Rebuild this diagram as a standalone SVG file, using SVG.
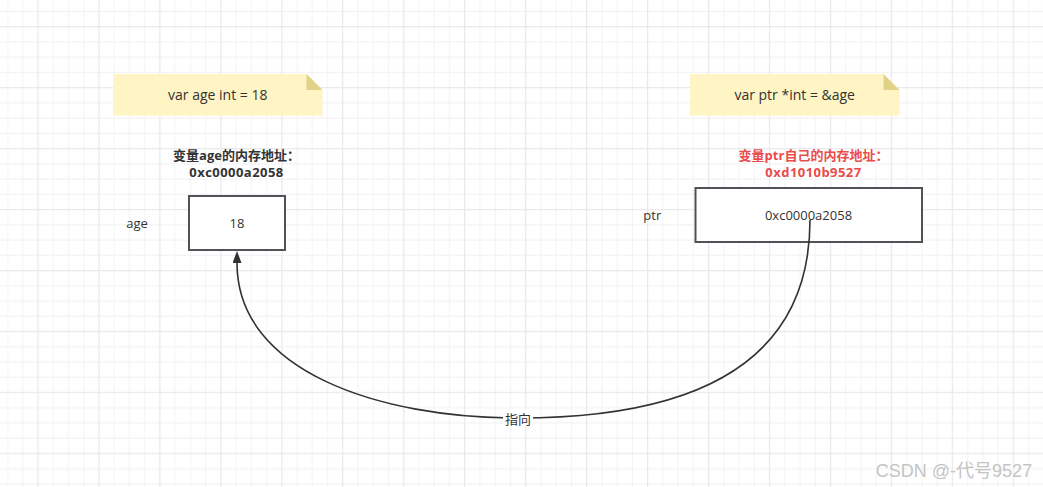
<svg xmlns="http://www.w3.org/2000/svg" width="1043" height="487" viewBox="0 0 1043 487">
<style>
text{font-family:"Open Sans","Noto Sans CJK SC",sans-serif;fill:#333333;font-size:13px}
.mid{text-anchor:middle}
.bold{font-weight:bold}
.wide{letter-spacing:0.45px}
.red{fill:#ea4b4b}
.note{fill:#fff4c3}
.fold{fill:#e2d288}
.box{fill:#ffffff;stroke:#4f5256;stroke-width:2}
.edge{fill:none;stroke:#333333;stroke-width:1.6}
.wm{fill:#c4c4c4;font-size:18px;font-family:"Liberation Sans","Noto Sans CJK SC",sans-serif}
</style>
<defs>
<pattern id="grid" patternUnits="userSpaceOnUse" x="30.38" y="19.08" width="60.96" height="60.96">
<path d="M22.86 0V60.96M38.1 0V60.96M53.34 0V60.96M0 22.86H60.96M0 38.1H60.96M0 53.34H60.96" stroke="#f3f3f3" stroke-width="1" fill="none"/>
<path d="M7.62 0V60.96M0 7.62H60.96" stroke="#e9e9e9" stroke-width="1.2" fill="none"/>
</pattern>
<marker id="arrow" markerUnits="userSpaceOnUse" viewBox="0 0 12 9" refX="0" refY="4.5" markerWidth="12" markerHeight="9" orient="auto">
<path d="M0 0L12 4.5L0 9z" fill="#333333"/>
</marker>
</defs>
<rect width="1043" height="487" fill="#ffffff"/>
<rect width="1043" height="487" fill="url(#grid)"/>

<g id="note-age">
<path class="note" d="M113 74H306.5L322.5 90V115.5H113z"/>
<path class="fold" d="M306.5 74L322.5 90H306.5z"/>
<text class="mid" x="217.8" y="100" style="font-size:14px">var age int = 18</text>
</g>

<g id="note-ptr">
<path class="note" d="M690 74H883.5L899.5 90V115.5H690z"/>
<path class="fold" d="M883.5 74L899.5 90H883.5z"/>
<text class="mid" x="794.7" y="100" style="font-size:14px">var ptr *int = &amp;age</text>
</g>

<g id="label-age-addr">
<text class="mid bold"><tspan x="236.5" y="159.5">变量age的内存地址：</tspan><tspan class="wide" x="236.5" y="176.5">0xc0000a2058</tspan></text>
</g>

<g id="node-age">
<text class="mid" x="137" y="228">age</text>
<rect class="box" x="189" y="196" width="96" height="54"/>
<text class="mid" x="237" y="228">18</text>
</g>

<g id="label-ptr-addr">
<text class="mid bold red"><tspan x="813.5" y="159.5">变量ptr自己的内存地址：</tspan><tspan class="wide" x="813.5" y="176.5">0xd1010b9527</tspan></text>
</g>

<g id="node-ptr">
<text class="mid" x="652.3" y="220">ptr</text>
<rect class="box" x="695.5" y="188" width="226.5" height="54"/>
<text class="mid" x="808.5" y="220">0xc0000a2058</text>
</g>

<g id="connectors">
<path class="edge" d="M810 220C810 360 700 418 518 418C380 418 237 372 237 263" marker-end="url(#arrow)"/>
<rect x="503" y="410" width="30" height="17" fill="#ffffff"/>
<text class="mid" x="518" y="423.5">指向</text>
</g>

<g id="watermark">
<text class="wm" x="954" y="477" text-anchor="middle">CSDN @-代号9527</text>
</g>
</svg>
